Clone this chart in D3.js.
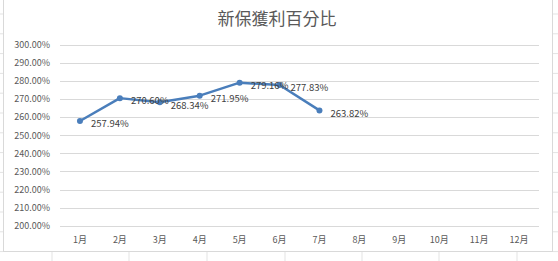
<!DOCTYPE html>
<html>
<head>
<meta charset="utf-8">
<script src="https://cdn.jsdelivr.net/npm/d3@7"></script>
<style>
    body { margin: 0; background: #fff; }
    svg { display: block; font-family: "Noto Sans CJK TC", "Noto Sans", sans-serif; }
</style>
</head>
<body>
<div id="chart"></div>
<script>
// chart data
const months = ["1月", "2月", "3月", "4月", "5月", "6月", "7月", "8月", "9月", "10月", "11月", "12月"];
const ratios = [257.94, 270.60, 268.34, 271.95, 279.16, 277.83, 263.82];
const yTicks = [200, 210, 220, 230, 240, 250, 260, 270, 280, 290, 300];
const title = "新保獲利百分比";

const width = 558, height = 261;
const margin = { top: 45, right: 20, bottom: 35, left: 60 };

const svg = d3.select("#chart")
    .append("svg")
    .attr("width", width)
    .attr("height", height);

// spreadsheet cell lines behind the chart object
const sheet = svg.append("g").attr("stroke", "#e3e3e3").attr("stroke-width", 1);
d3.range(14, 261, 19.8).forEach(y => {
    sheet.append("line").attr("x1", 0).attr("x2", 3).attr("y1", y).attr("y2", y);
    sheet.append("line").attr("x1", 553).attr("x2", width).attr("y1", y).attr("y2", y);
});
[52, 129, 207, 285, 362, 439, 517].forEach(x => {
    sheet.append("line").attr("x1", x).attr("x2", x).attr("y1", 252).attr("y2", height);
});

// chart frame
svg.append("rect")
    .attr("x", 3.5).attr("y", -1)
    .attr("width", 549).attr("height", 252.5)
    .attr("fill", "#fff")
    .attr("stroke", "#d9d9d9");

const x = d3.scaleBand()
    .domain(months)
    .range([margin.left, 539]);

const y = d3.scaleLinear()
    .domain([200, 300])
    .range([225.7, 45]);

// gridlines
svg.append("g")
    .selectAll("line")
    .data(yTicks)
    .join("line")
    .attr("x1", margin.left)
    .attr("x2", 539)
    .attr("y1", d => Math.round(y(d)) + 0.5)
    .attr("y2", d => Math.round(y(d)) + 0.5)
    .attr("stroke", "#d9d9d9")
    .attr("stroke-width", 1);

// y labels
svg.append("g")
    .selectAll("text")
    .data(yTicks)
    .join("text")
    .attr("x", 50)
    .attr("y", d => y(d))
    .attr("dy", "0.35em")
    .attr("text-anchor", "end")
    .attr("font-size", 9)
    .attr("fill", "#595959")
    .text(d => d.toFixed(2) + "%");

// x labels
svg.append("g")
    .selectAll("text")
    .data(months)
    .join("text")
    .attr("x", d => x(d) + x.bandwidth() / 2)
    .attr("y", 240)
    .attr("dy", "0.35em")
    .attr("text-anchor", "middle")
    .attr("font-size", 9)
    .attr("fill", "#595959")
    .text(d => d);

// title
svg.append("text")
    .attr("x", 277)
    .attr("y", 19)
    .attr("dy", "0.35em")
    .attr("text-anchor", "middle")
    .attr("font-size", 17)
    .attr("fill", "#595959")
    .text(title);

const px = (d, i) => x(months[i]) + x.bandwidth() / 2;

const line = d3.line()
    .x(px)
    .y(d => y(d));

svg.append("path")
    .datum(ratios)
    .attr("d", line)
    .attr("fill", "none")
    .attr("stroke", "#4a7ebb")
    .attr("stroke-width", 2.5)
    .attr("stroke-linejoin", "round");

svg.append("g")
    .selectAll("circle")
    .data(ratios)
    .join("circle")
    .attr("cx", px)
    .attr("cy", d => y(d))
    .attr("r", 3)
    .attr("fill", "#4a7ebb");

// data labels, right of each point
svg.append("g")
    .selectAll("text")
    .data(ratios)
    .join("text")
    .attr("x", (d, i) => px(d, i) + 11)
    .attr("y", d => y(d) + 3)
    .attr("dy", "0.35em")
    .attr("font-size", 9.5)
    .attr("fill", "#404040")
    .text(d => d.toFixed(2) + "%");
</script>
</body>
</html>
